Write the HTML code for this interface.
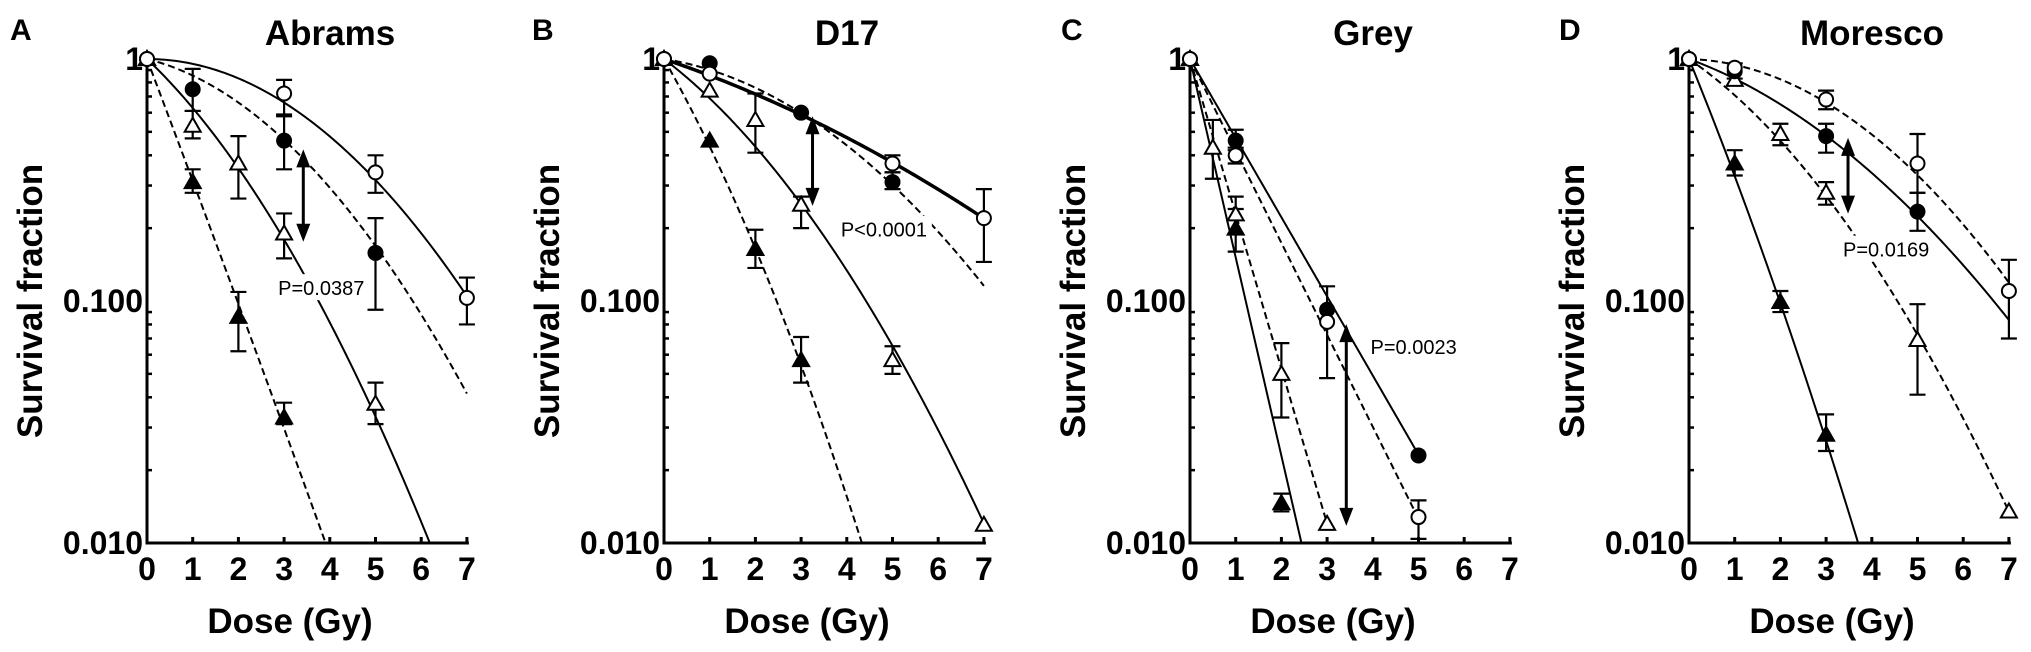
<!DOCTYPE html>
<html><head><meta charset="utf-8"><style>
html,body{margin:0;padding:0;background:#fff;}
svg{display:block;font-family:"Liberation Sans",Arial,sans-serif;}
</style></head><body>
<svg id="fig" width="2031" height="652" viewBox="0 0 2031 652" xmlns="http://www.w3.org/2000/svg"></svg>
<script>
// ---- Panel A: Abrams ----
const aOcDose=[0,3,5,7], aOcSF=[1,0.72,0.34,0.103], aOcLo=[null,0.59,0.28,0.08], aOcHi=[null,0.82,0.40,0.125], aOcFit=[0,0.02];
const aFcDose=[0,1,3,5], aFcSF=[1,0.75,0.46,0.158], aFcLo=[null,0.61,0.35,0.092], aFcHi=[null,0.91,0.58,0.22], aFcFit=[0.047,0.0215];
const aOtDose=[0,1,2,3,5], aOtSF=[1,0.53,0.37,0.19,0.0376], aOtLo=[null,0.47,0.265,0.15,0.031], aOtHi=[null,0.61,0.48,0.23,0.046], aOtFit=[0.179,0.0233];
const aFtDose=[0,1,2,3], aFtSF=[1,0.31,0.086,0.033], aFtLo=[null,0.28,0.062,0.031], aFtHi=[null,0.35,0.109,0.038], aFtFit=[0.5,0.003];
const aArrow=[3.42,0.415,0.179], aPText="P=0.0387", aPPos=[2.87,0.113];
// ---- Panel B: D17 ----
const bOcDose=[0,1,5,7], bOcSF=[1,0.87,0.37,0.22], bOcLo=[null,null,0.34,0.145], bOcHi=[null,null,0.40,0.29], bOcFit=[0.064,0.0043];
const bFcDose=[0,1,3,5], bFcSF=[1,0.96,0.6,0.31], bFcLo=[null,null,null,0.29], bFcHi=[null,null,null,0.34], bFcFit=[0.0296,0.0149];
const bOtDose=[0,1,2,3,5,7], bOtSF=[1,0.74,0.56,0.25,0.057,0.0119], bOtLo=[null,null,0.41,0.2,0.05,null], bOtHi=[null,null,0.72,0.27,0.065,null], bOtFit=[0.144,0.0186];
const bFtDose=[0,1,2,3], bFtSF=[1,0.46,0.164,0.057], bFtLo=[null,null,0.137,0.046], bFtHi=[null,null,0.197,0.071], bFtFit=[0.332,0.030];
const bArrow=[3.25,0.569,0.252], bPText="P<0.0001", bPPos=[3.87,0.197];
// ---- Panel C: Grey ----
const cOcDose=[0,1,3,5], cOcSF=[1,0.40,0.082,0.0128], cOcLo=[null,0.37,0.048,0.0104], cOcHi=[null,0.43,0.115,0.015], cOcFit=[0.38,0];
const cFcDose=[0,1,3,5], cFcSF=[1,0.46,0.092,0.023], cFcLo=[null,0.42,null,null], cFcHi=[null,0.51,null,null], cFcFit=[0.327,0];
const cOtDose=[0,0.5,1,2,3], cOtSF=[1,0.43,0.228,0.05,0.012], cOtLo=[null,0.32,0.19,0.033,null], cOtHi=[null,0.56,0.27,0.067,null], cOtFit=[0.64,0];
const cFtDose=[0,1,2], cFtSF=[1,0.199,0.0146], cFtLo=[null,0.16,0.0135], cFtHi=[null,0.24,0.016], cFtFit=[0.82,0];
const cArrow=[3.42,0.0787,0.012], cPText="P=0.0023", cPPos=[3.95,0.0646];
// ---- Panel D: Moresco ----
const dOcDose=[0,1,3,5,7], dOcSF=[1,0.92,0.68,0.37,0.11], dOcLo=[null,null,0.62,0.28,0.07], dOcHi=[null,null,0.74,0.49,0.148], dOcFit=[0.006,0.018];
const dFcDose=[0,1,3,5], dFcSF=[1,0.89,0.48,0.234], dFcLo=[null,0.83,0.41,0.195], dFcHi=[null,0.96,0.54,0.28], dFcFit=[0.0694,0.0121];
const dOtDose=[0,1,2,3,5,7], dOtSF=[1,0.82,0.49,0.28,0.069,0.0135], dOtLo=[null,null,0.44,0.25,0.041,null], dOtHi=[null,null,0.54,0.31,0.097,null], dOtFit=[0.13,0.0196];
const dFtDose=[0,1,2,3], dFtSF=[1,0.37,0.099,0.028], dFtLo=[null,0.33,0.09,0.024], dFtHi=[null,0.42,0.11,0.034], dFtFit=[0.463,0.0209];
const dArrow=[3.48,0.463,0.234], dPText="P=0.0169", dPPos=[3.37,0.163];

const xTicks=[0,1,2,3,4,5,6,7];
const yMajor=[1,0.1,0.01], yMajorLabels=["1","0.100","0.010"];

const NS="http://www.w3.org/2000/svg";
const svg=document.getElementById('fig');
function mk(tag,attrs,parent){const e=document.createElementNS(NS,tag);for(const k in attrs)e.setAttribute(k,attrs[k]);(parent||svg).appendChild(e);return e;}

const Y1=59, DEC=242, PXG=45.7;
function yOf(v){return Y1+(-Math.log10(v))*DEC;}

function drawPanel(cfg){
  const g=mk('g',{});
  
  
  const X0=cfg.x0;
  const xOf=d=>X0+d*PXG;
  const yBot=yOf(0.01);
  // panel letter & title
  const lt=mk('text',{x:cfg.letterX,y:40,'font-size':30,'font-weight':'bold'},g);lt.textContent=cfg.letter;
  
  
  const tt=mk('text',{x:X0+183,y:45,'font-size':35,'font-weight':'bold','text-anchor':'middle'},g);tt.textContent=cfg.title;
  
  
  // y title
  const yt=mk('text',{x:0,y:0,'font-size':35,'font-weight':'bold','text-anchor':'middle',transform:`translate(${X0-105},${(Y1+yBot)/2}) rotate(-90)`},g);
  yt.textContent='Survival fraction';
  
  
  // x title
  const xt=mk('text',{x:X0+143,y:633,'font-size':35,'font-weight':'bold','text-anchor':'middle'},g);
  xt.textContent='Dose (Gy)';
  
  
  // axes
  const ax=mk('path',{d:`M${X0},${Y1-4}V${yBot}H${xOf(7)+2}`,fill:'none',stroke:'#000','stroke-width':3},g);
  
  
  xTicks.forEach(t=>{
    mk('line',{x1:xOf(t),x2:xOf(t),y1:yBot,y2:yBot-6,stroke:'#000','stroke-width':3},g);
    const tl=mk('text',{x:xOf(t),y:580,'font-size':32,'font-weight':'bold','text-anchor':'middle'},g);tl.textContent=t;
    
    
  });
  for(let dec=0;dec<2;dec++){for(let m=2;m<=9;m++){const v=m*Math.pow(10,-dec-2+0);const vv=m*Math.pow(10,-(dec+1));
    mk('line',{x1:X0,x2:X0+5,y1:yOf(vv),y2:yOf(vv),stroke:'#000','stroke-width':2.5},g);}}
  yMajor.forEach((v,i)=>{
    const tl=mk('text',{x:X0-4,y:yOf(v)+11,'font-size':32,'font-weight':'bold','text-anchor':'end'},g);tl.textContent=yMajorLabels[i];
    
    
  });
  // curves
  cfg.series.forEach(s=>{
    let d='';const end=s.end||7;
    for(let i=0;i<=140;i++){const D=end*i/140;const lg=-(s.fit[0]*D+s.fit[1]*D*D);
      if(lg<-2){const Dp=end*(i-1)/140;// clip
        // solve for crossing roughly
        let lo=Dp,hi=D;for(let k=0;k<30;k++){const m=(lo+hi)/2;if(-(s.fit[0]*m+s.fit[1]*m*m)<-2)hi=m;else lo=m;}
        d+=`L${xOf(lo).toFixed(2)},${yBot.toFixed(2)}`;break;}
      d+=(i?'L':'M')+xOf(D).toFixed(2)+','+(Y1-lg*DEC).toFixed(2);}
    const p=mk('path',{d,fill:'none',stroke:'#000','stroke-width':s.thick?3.5:2,'stroke-dasharray':s.dash?'7 4':'none'},g);
    
    
  });
  // p label
  const px=xOf(cfg.pPos[0]), py=yOf(cfg.pPos[1]);
  mk('rect',{x:px-5,y:py-14,width:96,height:26,fill:'#fff'},g);
  const pt=mk('text',{x:px,y:py+7,'font-size':20},g);pt.textContent=cfg.pText;
  
  
  // error bars & markers
  cfg.series.forEach(s=>{
    s.dose.forEach((D,i)=>{
      if(s.lo[i]!=null){const x=xOf(D);
        const eb=mk('path',{d:`M${x},${yOf(s.lo[i])}V${yOf(s.hi[i])}M${x-8},${yOf(s.lo[i])}H${x+8}M${x-8},${yOf(s.hi[i])}H${x+8}`,stroke:'#000','stroke-width':2.2,fill:'none'},g);
        
        }
    });
  });
  cfg.series.slice().reverse().forEach(s=>{
    s.dose.forEach((D,i)=>{
      const x=xOf(D),y=yOf(s.sf[i]);let m;
      const fill=s.filled?'#000':'#fff';
      if(s.shape==='circle') m=mk('circle',{cx:x,cy:y,r:7,fill,stroke:'#000','stroke-width':2},g);
      else m=mk('path',{d:`M${x},${y-8}L${x+8},${y+6}L${x-8},${y+6}Z`,fill,stroke:'#000','stroke-width':2},g);
      
      
    });
  });
  // arrow
  const axx=xOf(cfg.arrow[0]), ya=yOf(cfg.arrow[1]), yb=yOf(cfg.arrow[2]);
  const ar=mk('g',{},g);
  
  
  mk('line',{x1:axx,x2:axx,y1:ya+10,y2:yb-10,stroke:'#000','stroke-width':3},ar);
  mk('path',{d:`M${axx},${ya-2}L${axx+7},${ya+16}L${axx-7},${ya+16}Z`,fill:'#000'},ar);
  mk('path',{d:`M${axx},${yb+2}L${axx+7},${yb-16}L${axx-7},${yb-16}Z`,fill:'#000'},ar);
}
function S(name,shape,filled,dash,dose,sf,lo,hi,fit,end,thick){return {name,shape,filled,dash,dose,sf,lo,hi,fit,end,thick};}
drawPanel({key:'a',letter:'A',letterX:10,title:'Abrams',x0:147,arrow:aArrow,pText:aPText,pPos:aPPos,series:[
  S('open-circle','circle',false,false,aOcDose,aOcSF,aOcLo,aOcHi,aOcFit,7),
  S('filled-circle','circle',true,true,aFcDose,aFcSF,aFcLo,aFcHi,aFcFit,7),
  S('open-triangle','tri',false,false,aOtDose,aOtSF,aOtLo,aOtHi,aOtFit,7),
  S('filled-triangle','tri',true,true,aFtDose,aFtSF,aFtLo,aFtHi,aFtFit,7)]});
drawPanel({key:'b',letter:'B',letterX:532,title:'D17',x0:664,arrow:bArrow,pText:bPText,pPos:bPPos,series:[
  S('open-circle','circle',false,false,bOcDose,bOcSF,bOcLo,bOcHi,bOcFit,7,true),
  S('filled-circle','circle',true,true,bFcDose,bFcSF,bFcLo,bFcHi,bFcFit,7),
  S('open-triangle','tri',false,false,bOtDose,bOtSF,bOtLo,bOtHi,bOtFit,7),
  S('filled-triangle','tri',true,true,bFtDose,bFtSF,bFtLo,bFtHi,bFtFit,7)]});
drawPanel({key:'c',letter:'C',letterX:1061,title:'Grey',x0:1190,arrow:cArrow,pText:cPText,pPos:cPPos,series:[
  S('open-circle','circle',false,true,cOcDose,cOcSF,cOcLo,cOcHi,cOcFit,5),
  S('filled-circle','circle',true,false,cFcDose,cFcSF,cFcLo,cFcHi,cFcFit,5),
  S('open-triangle','tri',false,true,cOtDose,cOtSF,cOtLo,cOtHi,cOtFit,3),
  S('filled-triangle','tri',true,false,cFtDose,cFtSF,cFtLo,cFtHi,cFtFit,7)]});
drawPanel({key:'d',letter:'D',letterX:1559,title:'Moresco',x0:1689,arrow:dArrow,pText:dPText,pPos:dPPos,series:[
  S('open-circle','circle',false,true,dOcDose,dOcSF,dOcLo,dOcHi,dOcFit,7),
  S('filled-circle','circle',true,false,dFcDose,dFcSF,dFcLo,dFcHi,dFcFit,7),
  S('open-triangle','tri',false,true,dOtDose,dOtSF,dOtLo,dOtHi,dOtFit,7),
  S('filled-triangle','tri',true,false,dFtDose,dFtSF,dFtLo,dFtHi,dFtFit,7)]});
</script>
</body></html>
